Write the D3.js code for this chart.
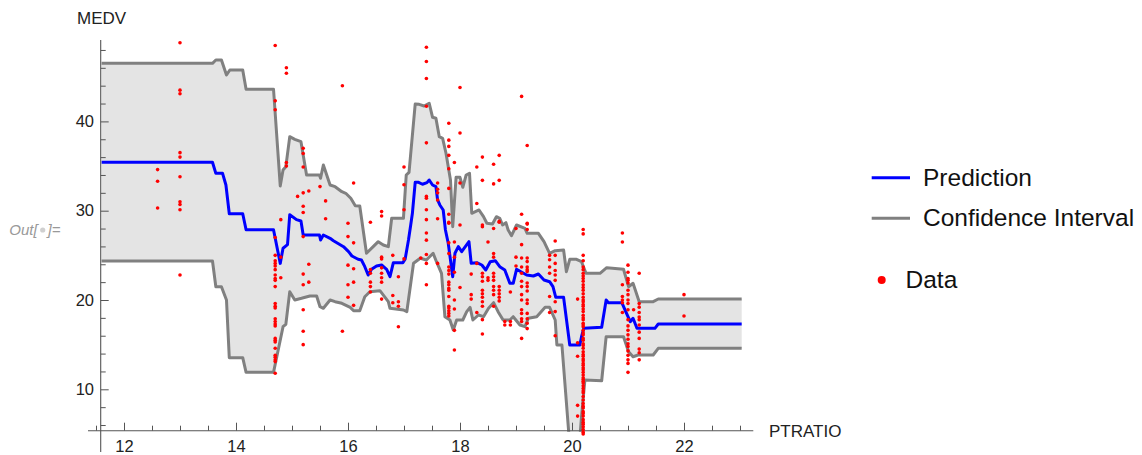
<!DOCTYPE html>
<html>
<head>
<meta charset="utf-8">
<script src="https://cdn.jsdelivr.net/npm/d3@7"></script>
<style>
  html, body { margin: 0; padding: 0; background: #fff; }
  svg { display: block; font-family: "Liberation Sans", Arial, sans-serif; }
</style>
</head>
<body>
<svg id="chart" width="1142" height="455"></svg>
<script>
// ---------- data ----------
const xTicksMajor = [12, 14, 16, 18, 20, 22];
const xTicksMinor = [11.5, 12.5, 13, 13.5, 14.5, 15, 15.5, 16.5, 17, 17.5, 18.5, 19, 19.5, 20.5, 21, 21.5, 22.5, 23];
const yTicksMajor = [10, 20, 30, 40];
const yTicksMinor = [6, 8, 12, 14, 16, 18, 22, 24, 26, 28, 32, 34, 36, 38, 42, 44, 46, 48];

const predX = [11.6, 13.58, 13.64, 13.76, 13.82, 13.88, 14.12, 14.18, 14.67, 14.79, 14.84, 14.92, 14.96, 15.08, 15.16, 15.20, 15.49, 15.51, 15.56, 15.68, 15.74, 15.92, 16.01, 16.07, 16.18, 16.24, 16.30, 16.36, 16.42, 16.51, 16.60, 16.69, 16.75, 16.81, 16.98, 17.02, 17.08, 17.12, 17.15, 17.20, 17.26, 17.33, 17.41, 17.45, 17.51, 17.57, 17.60, 17.64, 17.70, 17.74, 17.79, 17.87, 17.91, 17.97, 18.03, 18.16, 18.20, 18.30, 18.39, 18.46, 18.54, 18.63, 18.71, 18.80, 18.89, 18.95, 19.01, 19.19, 19.31, 19.40, 19.50, 19.60, 19.66, 19.71, 19.85, 19.96, 20.14, 20.17, 20.21, 20.53, 20.61, 20.65, 20.89, 20.96, 21.04, 21.09, 21.16, 21.48, 21.54, 23.03];
const predY = [35.42, 35.42, 34.18, 34.18, 32.88, 29.66, 29.66, 27.86, 27.86, 24.1, 25.8, 26.2, 29.55, 29.0, 28.85, 27.28, 27.28, 26.72, 27.28, 26.91, 26.64, 25.97, 25.41, 24.93, 24.56, 24.48, 23.73, 22.80, 23.44, 23.81, 23.92, 23.44, 22.61, 24.18, 24.18, 24.56, 26.72, 28.4, 29.71, 33.18, 33.18, 32.96, 33.14, 33.44, 32.88, 32.69, 31.2, 30.64, 30.08, 27.84, 26.35, 22.61, 25.23, 25.97, 25.41, 26.53, 24.11, 24.18, 23.92, 23.36, 24.29, 24.40, 23.73, 23.36, 21.87, 21.87, 23.44, 22.80, 22.69, 22.91, 22.24, 22.05, 21.49, 20.30, 20.30, 14.96, 14.96, 15.89, 16.83, 16.94, 20.0, 19.70, 19.70, 18.69, 17.57, 17.95, 16.83, 16.83, 17.31, 17.31];

const upperX = [11.6, 13.58, 13.64, 13.74, 13.83, 13.89, 14.12, 14.18, 14.67, 14.79, 14.84, 14.89, 14.96, 15.05, 15.16, 15.26, 15.49, 15.51, 15.56, 15.68, 15.77, 15.89, 15.96, 16.05, 16.13, 16.21, 16.33, 16.45, 16.54, 16.63, 16.72, 16.78, 16.99, 17.04, 17.09, 17.20, 17.27, 17.36, 17.45, 17.51, 17.57, 17.63, 17.69, 17.75, 17.83, 17.87, 17.93, 18.0, 18.05, 18.11, 18.17, 18.21, 18.34, 18.42, 18.48, 18.58, 18.65, 18.71, 18.76, 18.82, 18.86, 18.92, 19.01, 19.16, 19.20, 19.40, 19.50, 19.60, 19.70, 19.85, 19.90, 19.96, 20.08, 20.17, 20.25, 20.50, 20.62, 20.92, 21.01, 21.09, 21.20, 21.45, 21.54, 23.03];
const upperY = [46.5, 46.5, 46.87, 46.87, 45.2, 45.76, 45.76, 43.6, 43.6, 32.77, 34.56, 34.93, 38.29, 37.99, 37.73, 34.0, 34.0, 33.63, 35.12, 32.88, 32.69, 32.13, 31.95, 31.39, 30.56, 30.53, 25.23, 25.97, 26.53, 26.16, 25.97, 29.15, 29.15, 34.0, 34.3, 41.94, 41.91, 41.72, 42.03, 40.46, 40.35, 38.29, 38.1, 36.43, 33.44, 28.21, 33.74, 33.74, 32.62, 34.0, 34.19, 29.71, 30.08, 29.33, 28.59, 28.51, 29.33, 29.15, 28.4, 28.66, 27.84, 27.2, 28.4, 28.03, 27.47, 27.47, 26.53, 25.23, 25.52, 25.6, 23.17, 24.56, 24.56, 24.29, 22.99, 22.99, 23.62, 23.44, 21.49, 21.87, 19.81, 19.81, 20.11, 20.11];

const lowerX = [11.6, 13.58, 13.64, 13.74, 13.83, 13.88, 14.12, 14.18, 14.67, 14.84, 14.89, 14.96, 15.05, 15.17, 15.32, 15.44, 15.50, 15.56, 15.68, 15.77, 15.89, 16.04, 16.10, 16.21, 16.30, 16.39, 16.57, 16.72, 16.75, 16.99, 17.05, 17.17, 17.29, 17.40, 17.52, 17.58, 17.67, 17.73, 17.82, 17.88, 17.94, 18.05, 18.12, 18.18, 18.23, 18.33, 18.42, 18.51, 18.60, 18.68, 18.77, 18.89, 18.95, 19.07, 19.16, 19.22, 19.37, 19.52, 19.60, 19.70, 19.73, 19.82, 19.95, 20.14, 20.17, 20.23, 20.53, 20.61, 20.92, 21.01, 21.09, 21.18, 21.45, 21.54, 23.03];
const lowerY = [24.37, 24.37, 21.49, 21.49, 20.0, 13.54, 13.54, 11.9, 11.9, 17.01, 17.28, 20.93, 20.0, 20.19, 20.45, 20.45, 19.25, 19.07, 20.0, 19.81, 19.63, 19.18, 18.8, 18.8, 20.37, 20.93, 21.04, 19.81, 19.07, 18.88, 18.69, 24.11, 24.67, 24.48, 25.23, 24.29, 22.99, 18.13, 17.76, 16.64, 17.76, 17.76, 18.69, 19.18, 17.76, 18.32, 18.13, 19.07, 19.7, 18.69, 17.76, 17.76, 18.13, 17.2, 17.01, 17.95, 18.13, 19.18, 19.18, 17.76, 14.96, 14.96, 4.5, 4.5, 6.93, 11.04, 10.96, 15.89, 15.89, 14.21, 13.65, 13.84, 13.84, 14.59, 14.59];

const dataPtratio = [12.6, 13.0, 14.7, 14.8, 14.9, 15.1, 15.2, 15.3, 15.5, 15.6, 15.9, 16.0, 16.1, 16.4, 16.6, 16.8, 16.9, 17.0, 17.3, 17.4, 17.6, 17.8, 17.9, 18.0, 18.2, 18.3, 18.4, 18.5, 18.6, 18.7, 18.8, 18.9, 19.0, 19.1, 19.2, 19.6, 19.7, 20.1, 20.2, 20.9, 21.0, 21.1, 21.2, 22.0];
const dataMedv = [
  [34.6, 33.3, 30.3],
  [48.8, 43.5, 43.1, 36.5, 36.0, 33.8, 31.0, 30.7, 30.1, 22.8],
  [48.5, 42.3, 41.3, 27.0, 25.0, 24.4, 24.1, 23.8, 23.4, 22.8, 22.4, 22.2, 21.5, 19.6, 19.3, 19.1, 17.9, 17.6, 17.3, 17.1, 15.7, 15.5, 15.3, 14.6, 13.8, 13.6, 13.3, 13.1, 11.8],
  [29.0, 24.8, 22.5],
  [46.0, 45.4, 35.4, 35.0],
  [31.6],
  [37.0, 36.4, 34.9, 32.0, 30.5, 29.8, 27.1, 22.9, 21.7, 18.9, 16.5, 15.0],
  [32.2, 24.0, 22.0],
  [32.7],
  [31.1, 29.1],
  [44.0, 16.5],
  [28.6, 27.1, 23.9, 21.7, 20.3],
  [33.1, 26.4, 23.5, 22.0, 19.4],
  [28.7, 23.4, 23.0, 22.0, 21.5, 20.9],
  [29.9, 29.4, 24.8, 24.6, 23.6, 23.0, 22.5, 22.0, 20.1],
  [25.0, 20.5, 19.7],
  [22.6, 19.8, 19.3, 17.0],
  [34.9, 32.9, 30.1, 24.6],
  [24.7],
  [48.3, 46.7, 44.8, 41.7, 37.6, 31.6, 31.4, 30.1, 29.0, 27.5, 26.7, 25.1, 24.1, 21.7],
  [33.1, 32.4, 32.0, 31.2, 29.1, 24.1],
  [39.8, 37.9, 37.2, 36.2, 34.7, 32.5, 29.6, 28.7, 28.6, 26.4, 25.2, 23.7, 23.3, 22.9, 22.0, 21.7, 21.3, 21.1, 20.4, 19.3, 19.1, 18.8, 18.5, 18.2],
  [35.4, 26.5, 24.8, 23.1, 20.0, 19.0, 16.6, 14.4],
  [43.8, 38.7, 33.1, 28.4, 21.4],
  [22.9, 20.6, 20.1],
  [34.9, 30.8, 24.1, 18.6],
  [36.0, 33.4, 28.4, 28.2, 23.0, 22.6, 22.1, 21.1, 20.7, 20.3, 19.8, 19.3, 17.8, 16.2],
  [26.5, 22.5, 22.2],
  [35.2, 33.0, 28.0, 25.2, 24.8, 23.0, 22.6, 22.2, 21.5, 21.1, 20.6, 19.3],
  [36.2, 33.4, 28.8, 28.7, 21.5, 21.1, 20.7, 20.3, 19.9],
  [17.6, 17.2],
  [20.9, 17.6, 17.2],
  [28.0, 24.8, 23.8],
  [42.8, 29.6, 26.2, 24.7, 23.7, 23.0, 22.1, 21.5, 20.6, 20.0, 18.9, 18.5, 17.9, 17.6, 15.7],
  [37.3, 28.6, 28.5, 27.9, 24.7, 24.3, 23.7, 23.4, 23.2, 21.9, 21.5, 21.0, 20.0, 19.6, 18.5, 17.9, 17.4, 16.8],
  [25.0, 24.5, 23.7, 23.0, 20.4, 18.6],
  [26.6, 25.0, 24.1, 23.3, 22.8, 22.2, 19.8, 18.7, 16.0],
  [20.1, 15.2, 13.7, 8.2, 7.0],
  [27.9, 27.4, 25.0, 24.4, 23.7, 23.4, 23.0, 22.7, 22.4, 22.1, 21.7, 21.4, 21.1, 20.7, 20.3, 20.0, 19.8, 19.5, 19.3, 19.0, 18.7, 18.3, 18.0, 17.8, 17.4, 17.2, 17.0, 16.6, 16.3, 16.1, 15.7, 15.5, 15.1, 14.9, 14.6, 14.2, 13.9, 13.7, 13.4, 13.2, 12.9, 12.7, 12.4, 12.2, 11.9, 11.6, 11.3, 11.1, 10.9, 10.7, 10.4, 10.1, 9.8, 9.6, 9.2, 8.8, 8.4, 8.1, 7.9, 7.5, 7.3, 7.0, 6.6, 6.3, 6.1, 5.8, 5.5, 5.2, 5.0],
  [27.5, 26.5, 21.7, 20.4, 20.0, 19.7, 18.6],
  [23.9, 23.1, 22.4, 22.2, 21.9, 21.1, 20.6, 20.0, 19.6, 18.9, 17.8, 17.1, 16.6, 16.1, 15.6, 15.1, 14.8, 14.3, 13.8, 13.3, 12.9, 11.9],
  [18.9],
  [23.0, 19.6, 19.2, 18.6, 18.1, 17.8, 17.2, 16.4, 15.7, 14.5, 14.1, 13.3],
  [20.6, 18.2]
];

const legendItems = ["Prediction", "Confidence Interval", "Data"];

// ---------- drawing ----------
const svg = d3.select("#chart");
const x = d3.scaleLinear().domain([12, 22]).range([124, 684]);
const y = d3.scaleLinear().domain([10, 40]).range([389.3, 121.4]);

const axisY0 = 430.7;   // pixel row of x-axis
const axisX0 = 100.7;   // pixel column of y-axis
const axisColor = "#555";

svg.append("defs").append("clipPath").attr("id", "plotclip")
  .append("rect").attr("x", axisX0).attr("y", 0).attr("width", 760 - axisX0).attr("height", axisY0 + 1);

const upper = upperX.map((v, i) => [v, upperY[i]]);
const lower = lowerX.map((v, i) => [v, lowerY[i]]);
const pred = predX.map((v, i) => [v, predY[i]]);

const line = d3.line().x(d => x(d[0])).y(d => y(d[1]));

const plot = svg.append("g").attr("clip-path", "url(#plotclip)");

// filled band
plot.append("path")
  .attr("d", line(upper.concat(lower.slice().reverse())) + "Z")
  .attr("fill", "#e4e4e4").attr("stroke", "none");

plot.append("path").attr("d", line(upper))
  .attr("fill", "none").attr("stroke", "#808080").attr("stroke-width", 3).attr("stroke-linejoin", "round");
plot.append("path").attr("d", line(lower))
  .attr("fill", "none").attr("stroke", "#808080").attr("stroke-width", 3).attr("stroke-linejoin", "round");
plot.append("path").attr("d", line(pred))
  .attr("fill", "none").attr("stroke", "#0000ff").attr("stroke-width", 3).attr("stroke-linejoin", "round");

// axes
const gx = svg.append("g").attr("transform", `translate(0,${axisY0})`);
gx.call(d3.axisBottom(x).tickValues(xTicksMinor).tickSize(-5).tickFormat(""));
gx.call(g => g.select(".domain").remove());
const gx2 = svg.append("g").attr("transform", `translate(0,${axisY0})`);
gx2.call(d3.axisBottom(x).tickValues(xTicksMajor).tickSize(-8).tickPadding(9.6).tickFormat(d3.format("d")));
gx2.call(g => g.select(".domain").remove());

const gy = svg.append("g").attr("transform", `translate(${axisX0},0)`);
gy.call(d3.axisLeft(y).tickValues(yTicksMinor).tickSize(-5).tickFormat(""));
gy.call(g => g.select(".domain").remove());
const gy2 = svg.append("g").attr("transform", `translate(${axisX0},0)`);
gy2.call(d3.axisLeft(y).tickValues(yTicksMajor).tickSize(-8).tickPadding(6.7).tickFormat(d3.format("d")));
gy2.call(g => g.select(".domain").remove());

svg.selectAll(".tick line").attr("stroke", axisColor).attr("stroke-width", 1);
svg.selectAll(".tick text").attr("font-size", "16.5px").attr("fill", "#222")
  .attr("font-family", "'Liberation Sans', Arial, sans-serif");

svg.append("line").attr("x1", 88).attr("x2", 753.3).attr("y1", axisY0).attr("y2", axisY0)
  .attr("stroke", axisColor).attr("stroke-width", 1.1);
svg.append("line").attr("x1", axisX0).attr("x2", axisX0).attr("y1", 40).attr("y2", 452)
  .attr("stroke", axisColor).attr("stroke-width", 1.1);

// axis labels
svg.append("text").attr("x", 77).attr("y", 24).attr("font-size", "17px").attr("fill", "#222").text("MEDV");
svg.append("text").attr("x", 769).attr("y", 437).attr("font-size", "17px").attr("fill", "#222").text("PTRATIO");

// data points
const pts = [];
dataPtratio.forEach((p, i) => dataMedv[i].forEach(m => pts.push([p, m])));
svg.append("g").selectAll("circle").data(pts).join("circle")
  .attr("cx", d => x(d[0])).attr("cy", d => y(d[1])).attr("r", 1.8).attr("fill", "#ff0000");

// Out[•]= label
const outG = svg.append("g").attr("font-size", "15px").attr("font-style", "italic").attr("fill", "#999");
outG.append("text").attr("x", 9.3).attr("y", 235).text("Out[");
outG.append("circle").attr("cx", 42.7).attr("cy", 230).attr("r", 2.6).attr("fill", "#d0d0d0");
outG.append("text").attr("x", 47.5).attr("y", 235).text("]=");

// legend
const lg = svg.append("g").attr("font-size", "24.5px").attr("fill", "#111");
lg.append("line").attr("x1", 871.7).attr("x2", 910).attr("y1", 177.7).attr("y2", 177.7)
  .attr("stroke", "#0000ff").attr("stroke-width", 3);
lg.append("text").attr("x", 923).attr("y", 185.8).text(legendItems[0]);
lg.append("line").attr("x1", 871.7).attr("x2", 910).attr("y1", 218.3).attr("y2", 218.3)
  .attr("stroke", "#808080").attr("stroke-width", 3);
lg.append("text").attr("x", 923).attr("y", 226.2).text(legendItems[1]);
lg.append("circle").attr("cx", 881.7).attr("cy", 280).attr("r", 4).attr("fill", "#ff0000");
lg.append("text").attr("x", 905.5).attr("y", 288).text(legendItems[2]);
</script>
</body>
</html>
